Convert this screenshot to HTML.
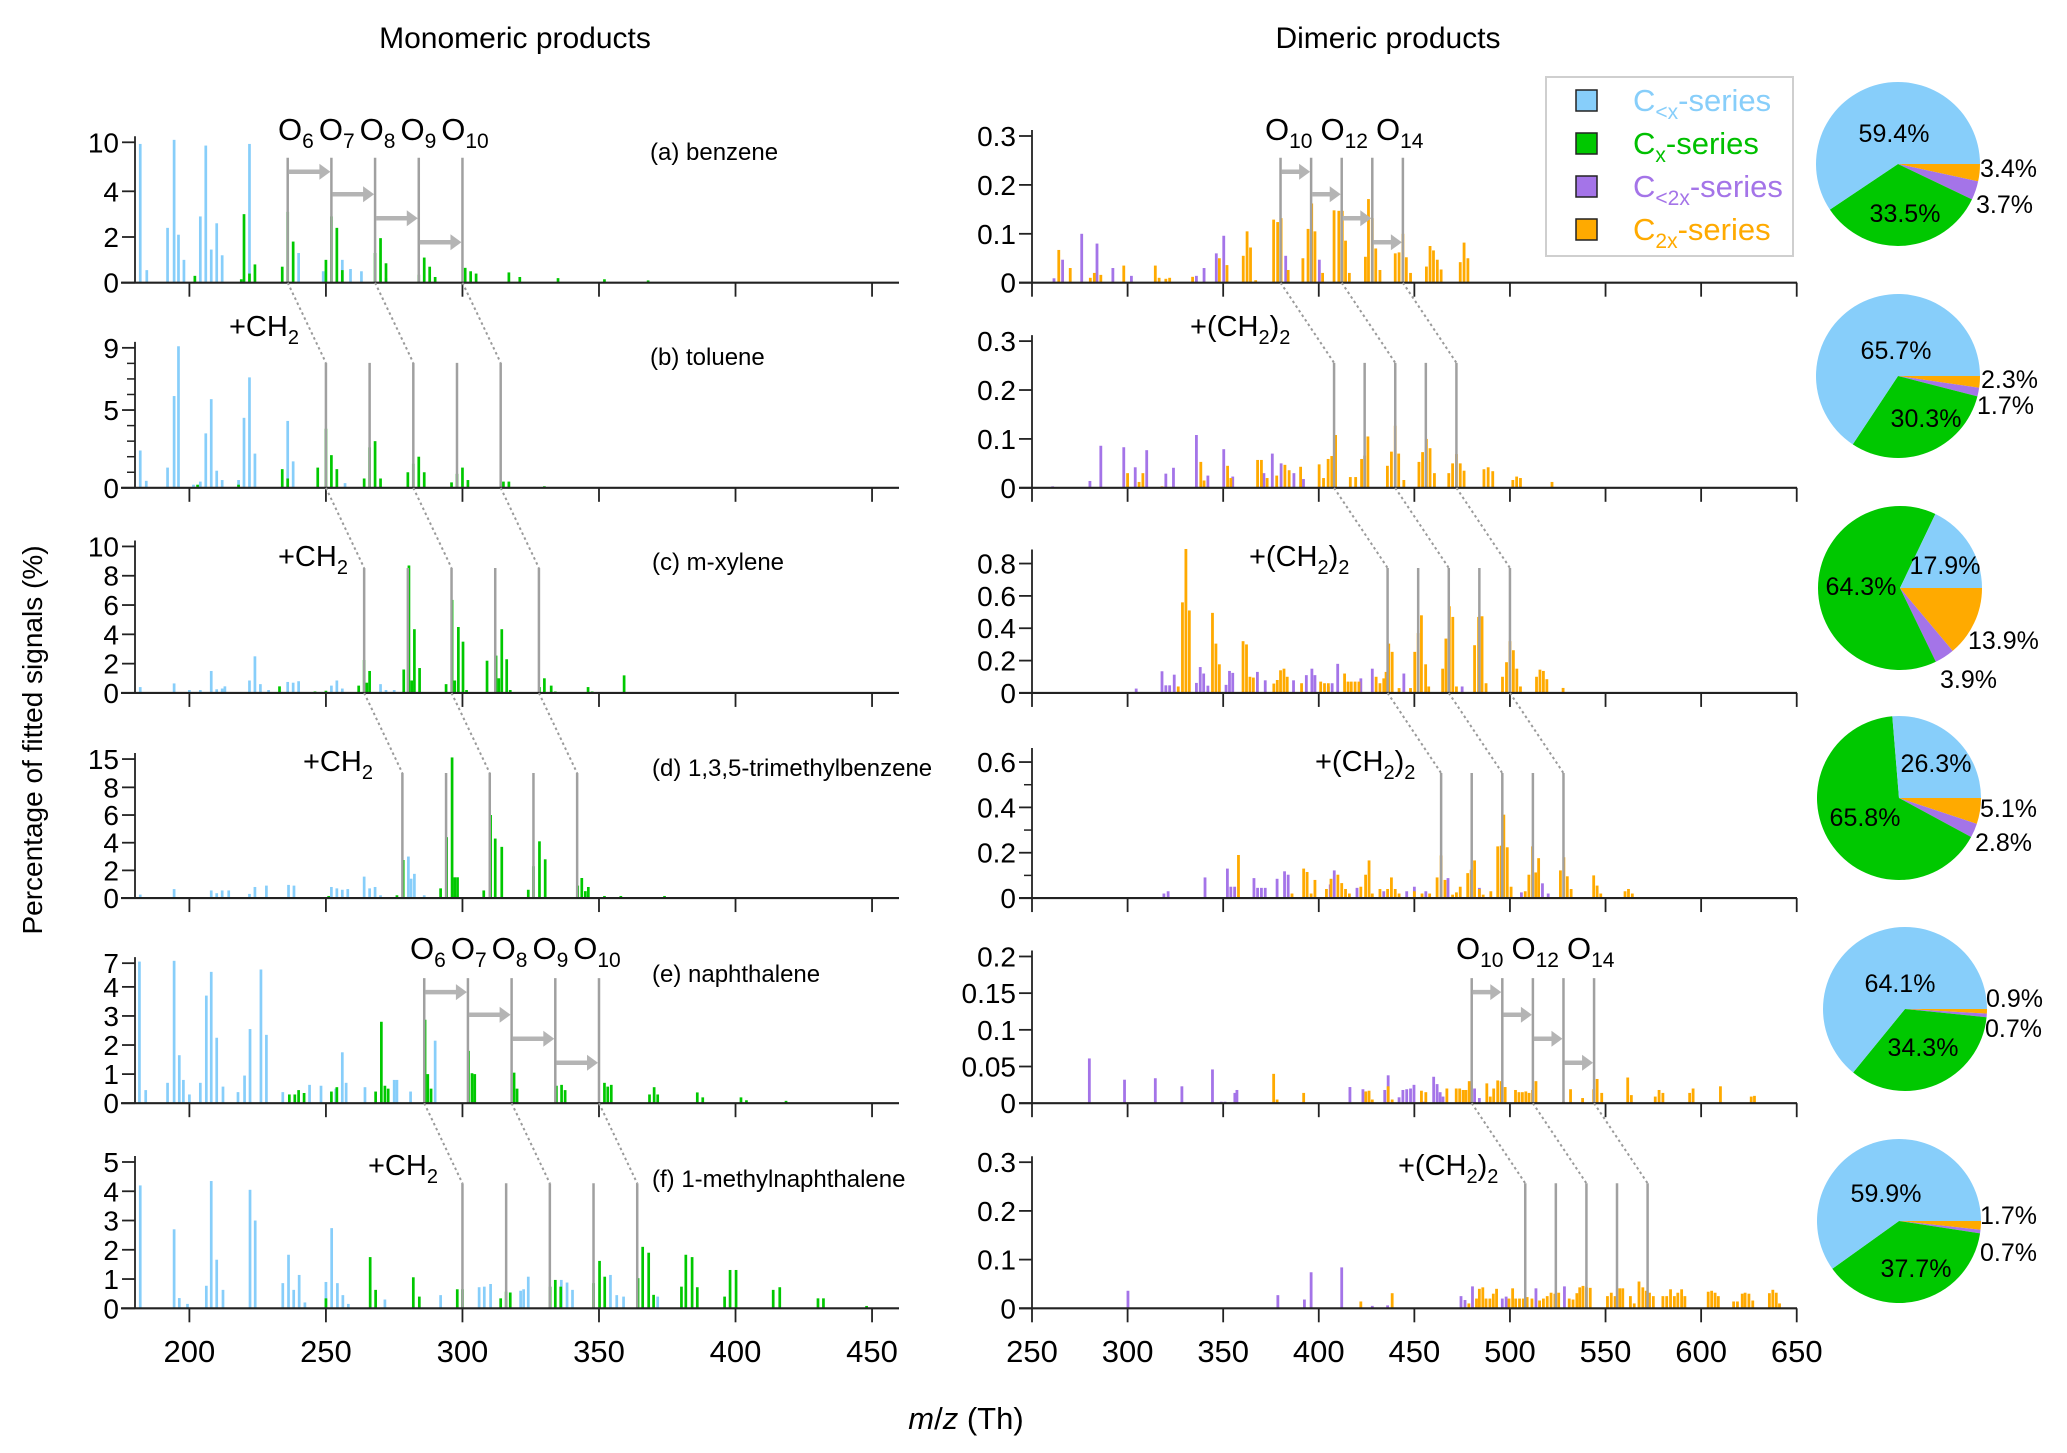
<!DOCTYPE html>
<html><head><meta charset="utf-8"><title>Monomeric and dimeric products</title>
<style>
html,body{margin:0;padding:0;background:#fff;}
svg{display:block;font-family:"Liberation Sans",Arial,sans-serif;}
</style></head>
<body>
<svg id="chart" width="2067" height="1453" viewBox="0 0 2067 1453" xmlns="http://www.w3.org/2000/svg">
<rect x="0" y="0" width="2067" height="1453" fill="#fff"/>
<text x="515" y="48" font-size="30" text-anchor="middle">Monomeric products</text>
<text x="1388" y="48" font-size="30" text-anchor="middle">Dimeric products</text>
<text transform="translate(42,740) rotate(-90)" font-size="28" text-anchor="middle">Percentage of fitted signals (%)</text>
<text x="966" y="1429" font-size="31" text-anchor="middle"><tspan font-style="italic">m</tspan>/<tspan font-style="italic">z</tspan> (Th)</text>
<g id="legend">
<rect x="1546" y="77" width="247" height="179" fill="#fff" stroke="#cfcfcf" stroke-width="2"/>
<rect x="1576" y="90" width="21" height="21" fill="#87cefa" stroke="#222" stroke-width="1.5"/>
<text x="1633" y="111" font-size="31" fill="#87cefa">C<tspan font-size="21" dy="8">&lt;x</tspan><tspan dy="-8">-series</tspan></text>
<rect x="1576" y="133" width="21" height="21" fill="#00c800" stroke="#222" stroke-width="1.5"/>
<text x="1633" y="154" font-size="31" fill="#00c000">C<tspan font-size="21" dy="8">x</tspan><tspan dy="-8">-series</tspan></text>
<rect x="1576" y="176" width="21" height="21" fill="#a474e8" stroke="#222" stroke-width="1.5"/>
<text x="1633" y="197" font-size="31" fill="#a474e8">C<tspan font-size="21" dy="8">&lt;2x</tspan><tspan dy="-8">-series</tspan></text>
<rect x="1576" y="219" width="21" height="21" fill="#ffaa00" stroke="#222" stroke-width="1.5"/>
<text x="1633" y="240" font-size="31" fill="#ffaa00">C<tspan font-size="21" dy="8">2x</tspan><tspan dy="-8">-series</tspan></text>
</g>
</svg>
<script>
// ---------- DATA ----------
const monoA_blueMz=[182,184.4,192,194.4,196,198,204,206,208,210,212,222,240,249,256,259,263,272];
const monoA_blueVal=[9.8,0.55,2.4,10.3,2.1,1.0,2.9,9.6,1.45,2.6,1.2,9.8,1.3,0.5,1.0,0.6,0.5,0.2];
const monoA_greenMz=[202,219,220,222,224,234,236,238,250,252,254,256,268,270,272,284,286,288,290,301,303,305,317,321,335,352,368];
const monoA_greenVal=[0.3,0.15,3.0,0.4,0.8,0.7,3.1,1.8,1.0,2.9,2.4,0.55,1.3,1.95,0.85,0.35,1.1,0.7,0.25,0.65,0.5,0.4,0.45,0.25,0.2,0.15,0.1];

const monoB_blueMz=[182,184.2,192,194.4,196,201.5,204,206,208,210,212,218,220,222,224,236,238,257];
const monoB_blueVal=[2.4,0.45,1.3,5.9,9.1,0.2,0.4,3.5,5.7,1.1,0.5,0.5,4.5,7.1,2.2,4.3,1.7,0.3];
const monoB_greenMz=[203,218,234,236,247,250,252,254,264,266,268,270,280,282,284,286,296,298,300,302,315,317,330];
const monoB_greenVal=[0.2,0.2,1.2,0.6,1.3,3.8,2.1,1.2,0.6,2.6,3.0,0.6,1.0,1.55,2.0,1.0,0.35,0.9,1.3,0.5,0.4,0.4,0.1];

const monoC_blueMz=[182,194.4,200,204,208,210,212,213,222,224,226,229,236,238,240,252,254,256,270,272,275];
const monoC_blueVal=[0.4,0.65,0.2,0.2,1.5,0.25,0.3,0.45,0.85,2.5,0.6,0.2,0.75,0.7,0.8,0.5,0.85,0.3,0.6,0.2,0.2];
const monoC_greenMz=[233,246,250,262,264,265,266,278.5,280.4,281.4,282.4,284.3,294,296.2,297.2,298.5,300.2,301.5,309,312.3,313.3,314.4,316.2,317.5,328.2,330,332.5,334,346,347.5,359.2,366];
const monoC_greenVal=[0.45,0.1,0.15,0.5,2.25,0.7,1.5,1.6,8.7,0.85,4.35,1.7,0.6,6.35,0.85,4.5,3.5,0.2,2.2,2.55,1.0,4.35,2.3,0.2,0.4,1.0,0.5,0.1,0.4,0.1,1.2,0.05];

const monoD_blueMz=[182,194.4,208,210,212,214.4,222,224,228.2,236.3,238.3,252,254,256,258,264,266,268,270,280.2,281.2,282.4,286];
const monoD_blueVal=[0.25,0.65,0.55,0.35,0.55,0.55,0.3,0.8,0.9,0.95,0.9,0.8,0.7,0.6,0.65,1.55,0.7,0.8,0.2,3.0,1.4,1.75,0.2];
const monoD_greenMz=[251,276,278.3,292,294.2,296.2,297.2,298.2,307.8,310.3,312.0,314.4,324.1,326,328.2,330.3,342.2,343.7,345,346.1,352,358,374];
const monoD_greenVal=[0.15,0.2,2.75,0.7,4.4,15.4,1.5,1.5,0.55,6.0,4.3,3.7,0.6,2.3,4.1,2.8,0.9,1.45,0.5,0.8,0.15,0.15,0.15];

const monoE_blueMz=[181.7,184,192,194.4,196.3,197.8,200,204,206.2,208,210,212.3,217.8,220.2,222.2,226.2,228.2,234.2,244,248.2,253.6,256,257.4,264.3,275,276,281,290];
const monoE_blueVal=[7.2,0.45,0.7,7.3,1.65,0.8,0.3,0.7,3.7,5.9,2.25,0.57,0.38,0.95,2.55,6.2,2.35,0.38,0.63,0.6,0.5,1.75,0.7,0.55,0.8,0.8,0.4,2.15];
const monoE_greenMz=[236.6,238.6,240,242,252,254,268.2,270.3,271.6,272.8,286.3,287.3,288.5,302.2,303.5,304.5,318.9,320,334.4,336.3,337.6,352,353.2,354.5,368.5,370.2,371.5,386,388,402,404,418.5];
const monoE_greenVal=[0.3,0.3,0.45,0.35,0.4,0.55,0.4,2.8,0.6,0.5,2.87,1.0,0.5,1.8,1.03,1.0,1.05,0.5,0.6,0.63,0.45,0.7,0.57,0.63,0.3,0.55,0.3,0.37,0.2,0.2,0.1,0.08];

const monoF_blueMz=[182,194.4,196.3,199.3,206.2,208,210,212.3,222.2,224.1,234.2,236.3,238.2,240.2,242.3,250,252.1,254.2,256.2,258.2,271.6,292,306.1,308,310.3,321.3,322.4,324.1,336.2,338.3,340.3,354.2,356.5,359,371.5];
const monoF_blueVal=[4.2,2.7,0.35,0.15,0.77,4.35,1.66,0.63,4.05,3.0,0.86,1.83,0.63,1.14,0.2,0.9,2.74,0.86,0.45,0.15,0.3,0.45,0.72,0.74,0.83,0.6,0.65,1.08,0.97,0.88,0.63,1.14,0.45,0.4,0.4];
const monoF_greenMz=[250,266.2,268.2,282,284.2,298.1,300,314,316,317.5,332.1,334,336,348,350.2,352.1,364.3,366,368.2,370,380.2,381.8,384.1,386,396,398,400.2,413.8,416.2,430.2,432.2,448];
const monoF_greenVal=[0.34,1.75,0.63,1.06,0.4,0.65,0.65,0.34,0.57,0.54,0.74,0.97,0.74,0.86,1.62,1.08,1.03,2.1,1.9,0.46,0.74,1.83,1.75,0.72,0.4,1.31,1.31,0.63,0.72,0.34,0.34,0.08];

const dimA_purpleMz=[261.5,266,276,284,292.3,302,336,340,346.4,350.3,382.7,400.3];
const dimA_purpleVal=[0.009,0.047,0.1,0.08,0.03,0.014,0.014,0.03,0.06,0.096,0.055,0.047];
const dimA_orangeMz=[264,270,280.5,282.6,286,298,314.5,316.5,320,322,334,348,352,360.5,362.5,364.3,367,376.4,378.5,380.3,384,391.7,394.4,396.3,398,402,408,410.5,412.3,414,416,424.4,426,428,429.8,432,440,442,444,445.8,448,456.3,458.2,460,462,464,474,476,478];
const dimA_orangeVal=[0.067,0.03,0.01,0.02,0.016,0.035,0.035,0.01,0.008,0.01,0.012,0.05,0.036,0.055,0.105,0.072,0.005,0.129,0.124,0.132,0.026,0.05,0.11,0.162,0.105,0.02,0.148,0.147,0.147,0.086,0.02,0.053,0.171,0.132,0.07,0.026,0.06,0.062,0.1,0.052,0.02,0.033,0.075,0.066,0.047,0.027,0.042,0.082,0.05];

const dimB_purpleMz=[260.8,280.3,286,298,304,310,320,324,336,342,350.3,355,371.3,375.7,380.3,387,392];
const dimB_purpleVal=[0.003,0.014,0.086,0.083,0.042,0.077,0.029,0.041,0.108,0.025,0.079,0.023,0.03,0.07,0.05,0.03,0.018];
const dimB_orangeMz=[300,306,308,318,338.3,340,352.3,354,368,370,373,378,382.3,384.5,390.5,400.2,402.5,404.9,406.8,408.8,416.5,419.3,422.4,424,425.7,435.9,438,440,441.8,444.5,452.4,454.3,456.3,458.2,460.5,468,470,472,474,476,486.4,488.6,491,501.5,503.5,505.5,522];
const dimB_orangeVal=[0.03,0.012,0.03,0.003,0.053,0.015,0.045,0.02,0.057,0.057,0.02,0.025,0.047,0.036,0.043,0.048,0.02,0.059,0.065,0.108,0.022,0.022,0.059,0.066,0.105,0.045,0.074,0.127,0.07,0.016,0.053,0.073,0.1,0.081,0.03,0.03,0.05,0.069,0.05,0.035,0.038,0.042,0.034,0.016,0.023,0.02,0.012];

const dimC_purpleMz=[304.5,318,320,322,324.4,336,338,339.8,342,351.5,353.3,355,367.9,372,386.8,393.5,396.4,398,405,407,409.9,422,428,444.5,475];
const dimC_purpleVal=[0.027,0.134,0.047,0.047,0.113,0.062,0.16,0.12,0.045,0.05,0.136,0.124,0.13,0.078,0.078,0.11,0.15,0.11,0.04,0.06,0.18,0.09,0.15,0.12,0.04];
const dimC_orangeMz=[326.5,328.7,330.5,332.3,344.4,346.2,348,360.4,362.2,364,365.8,376.5,378.3,380,381.8,383.5,391,401,403,405,413.5,415.3,417,419,421,430,432,434,435.2,436.6,438.4,442,448,450.2,452,453.7,455.9,457.5,464.8,466.5,468.3,470.1,472,481.5,483.6,485.4,487.5,496.1,498.2,500,501.8,503.6,505.5,513.9,515.7,517.5,519.3,527.8];
const dimC_orangeVal=[0.04,0.56,0.89,0.51,0.495,0.305,0.177,0.32,0.3,0.1,0.095,0.058,0.08,0.14,0.15,0.1,0.06,0.07,0.06,0.06,0.12,0.07,0.07,0.07,0.07,0.1,0.06,0.09,0.13,0.305,0.254,0.03,0.03,0.254,0.37,0.48,0.177,0.04,0.15,0.336,0.536,0.47,0.04,0.295,0.47,0.474,0.06,0.1,0.19,0.32,0.264,0.15,0.04,0.1,0.144,0.136,0.085,0.031];

const dimD_purpleMz=[319,321.2,340.5,352.2,354,356,366.1,368,370,372,378.2,382.1,384,406,408.1,420,434,446,450,456,467.6,484,506,517,520];
const dimD_purpleVal=[0.02,0.03,0.091,0.13,0.05,0.05,0.088,0.045,0.045,0.045,0.085,0.118,0.103,0.06,0.122,0.045,0.03,0.03,0.05,0.03,0.088,0.045,0.025,0.065,0.02];
const dimD_orangeMz=[358,386,392.1,393.9,396,398,404,406.4,410,412,414,416,422,424.5,426.3,428,432,436,438,440,442,450,454,458,461.9,464,466,470,472,474,477.9,479.7,481.5,484,486,490,493.6,495.4,496.8,498.6,500.6,508,509.9,511.8,513.5,515,526.4,528.2,530,532,543.8,545.6,547.5,560.2,562,564];
const dimD_orangeVal=[0.19,0.02,0.13,0.115,0.02,0.08,0.04,0.085,0.103,0.066,0.04,0.02,0.05,0.103,0.166,0.02,0.04,0.04,0.091,0.04,0.02,0.03,0.02,0.02,0.091,0.188,0.08,0.015,0.025,0.05,0.11,0.125,0.166,0.04,0.015,0.03,0.228,0.231,0.368,0.224,0.05,0.03,0.103,0.228,0.113,0.176,0.122,0.18,0.096,0.04,0.1,0.055,0.02,0.03,0.04,0.02];

const dimE_purpleMz=[280,298.4,314.5,328.4,344.4,349,351,356.1,357.2,416.3,423.1,434.5,436.3,442,444,446,448,449.8,455,460.1,461.9,463.5,465,481.5,484];
const dimE_purpleVal=[0.061,0.032,0.034,0.023,0.046,0.002,0.002,0.014,0.018,0.022,0.019,0.018,0.038,0.008,0.018,0.019,0.02,0.025,0.002,0.036,0.026,0.015,0.009,0.02,0.007];
const dimE_orangeMz=[376.4,378.2,392.1,424.6,426.3,428,436.3,438.4,453.7,456,467,471.9,473.7,475.5,477,478.7,487.9,489.7,491.5,493.6,495.4,497.5,502.9,504.7,506.5,508.3,510,511.8,513.6,528,531.7,538,543.8,545.6,548,561.6,563.5,576,578,580,594,595.8,610.1,626.2,627.9];
const dimE_orangeVal=[0.04,0.005,0.014,0.016,0.017,0.005,0.023,0.005,0.017,0.015,0.02,0.02,0.02,0.018,0.018,0.03,0.027,0.009,0.02,0.031,0.03,0.022,0.018,0.015,0.015,0.016,0.014,0.018,0.03,0.002,0.019,0.007,0.019,0.033,0.014,0.035,0.011,0.009,0.018,0.014,0.014,0.02,0.023,0.009,0.01];

const dimF_purpleMz=[300.2,378.6,392.5,396,412,428,436,474.4,476.5,480.4,496,498,513.6,528.5];
const dimF_purpleVal=[0.036,0.027,0.018,0.074,0.084,0.005,0.006,0.025,0.017,0.045,0.02,0.024,0.041,0.045];
const dimF_orangeMz=[422,438.4,478.5,482.5,484,485.8,487.5,489.5,491.3,493,499.5,501.4,503,505,507,509,511.5,515.5,517.5,519.5,521.5,523.5,525.5,531,533,535,536.5,538.2,540,542,551,553,555,557.4,559,563,565,567.5,569.5,571.3,573,575,580,582,584,586,587.8,589.8,591.5,603.7,605.5,607.3,609,617,619,621.5,623,625,627,635.7,637.5,639.3,641];
const dimF_orangeVal=[0.014,0.031,0.01,0.02,0.04,0.043,0.02,0.02,0.03,0.04,0.02,0.041,0.02,0.02,0.02,0.023,0.02,0.016,0.02,0.025,0.032,0.03,0.032,0.02,0.018,0.031,0.043,0.046,0.043,0.042,0.025,0.032,0.025,0.041,0.041,0.025,0.01,0.055,0.043,0.036,0.032,0.025,0.025,0.025,0.039,0.025,0.032,0.039,0.025,0.034,0.036,0.032,0.025,0.014,0.014,0.03,0.032,0.03,0.016,0.031,0.038,0.032,0.01];

const pieA=[59.4,33.5,3.7,3.4];
const pieB=[65.7,30.3,1.7,2.3];
const pieC=[17.9,64.3,3.9,13.9];
const pieD=[26.3,65.8,2.8,5.1];
const pieE=[64.1,34.3,0.7,0.9];
const pieF=[59.9,37.7,0.7,1.7];

const monoXTicks=[200,250,300,350,400,450];
const dimXTicks=[250,300,350,400,450,500,550,600,650];
const monoYTicksA=[0,2,4,10], monoYTicksB=[0,5,9], monoYTicksC=[0,2,4,6,8,10];
const monoYTicksD=[0,2,4,6,8,15], monoYTicksE=[0,1,2,3,4,7], monoYTicksF=[0,1,2,3,4,5];
const dimYTicksA=[0,0.1,0.2,0.3], dimYTicksB=[0,0.1,0.2,0.3], dimYTicksC=[0,0.2,0.4,0.6,0.8];
const dimYTicksD=[0,0.2,0.4,0.6], dimYTicksE=[0,0.05,0.1,0.15,0.2], dimYTicksF=[0,0.1,0.2,0.3];
const monoMarkA=[236,252,268,284,300], monoMarkB=[250,266,282,298,314], monoMarkC=[264,280,296,312,328];
const monoMarkD=[278,294,310,326,342], monoMarkE=[286,302,318,334,350], monoMarkF=[300,316,332,348,364];
const dimMarkA=[380,396,412,428,444], dimMarkB=[408,424,440,456,472], dimMarkC=[436,452,468,484,500];
const dimMarkD=[464,480,496,512,528], dimMarkE=[480,496,512,528,544], dimMarkF=[508,524,540,556,572];

// ---------- RENDER ----------
const NS="http://www.w3.org/2000/svg";
const svg=document.getElementById('chart');
const COL={b:'#87cefa',g:'#00c800',p:'#a474e8',o:'#ffaa00'};
function mk(tag,attrs,parent){const e=document.createElementNS(NS,tag);for(const k in attrs)e.setAttribute(k,attrs[k]);(parent||svg).appendChild(e);return e;}
const xMono=m=>189.4+(m-200)*2.7306;
const xDim=m=>1032+(m-250)*1.9118;
const BASE0=282.7, STEP=205.12;
function pwScale(base,vs,ps){return v=>{let i=0;while(i<vs.length-2&&v>vs[i+1])i++;const t=(v-vs[i])/(vs[i+1]-vs[i]);return base-(ps[i]+t*(ps[i+1]-ps[i]));};}
const fmt=v=>String(v);

const monoPanels=[
 {id:'a',name:'(a) benzene',bm:monoA_blueMz,bv:monoA_blueVal,gm:monoA_greenMz,gv:monoA_greenVal,yt:monoYTicksA,vs:[0,4,10],ps:[0,91.4,140.4],mk:monoMarkA},
 {id:'b',name:'(b) toluene',bm:monoB_blueMz,bv:monoB_blueVal,gm:monoB_greenMz,gv:monoB_greenVal,yt:monoYTicksB,vs:[0,9],ps:[0,140],mk:monoMarkB,minor:[1,2,3,4,6,7,8]},
 {id:'c',name:'(c) m-xylene',bm:monoC_blueMz,bv:monoC_blueVal,gm:monoC_greenMz,gv:monoC_greenVal,yt:monoYTicksC,vs:[0,10],ps:[0,146.5],mk:monoMarkC},
 {id:'d',name:'(d) 1,3,5-trimethylbenzene',bm:monoD_blueMz,bv:monoD_blueVal,gm:monoD_greenMz,gv:monoD_greenVal,yt:monoYTicksD,vs:[0,8,15],ps:[0,110.7,139],mk:monoMarkD},
 {id:'e',name:'(e) naphthalene',bm:monoE_blueMz,bv:monoE_blueVal,gm:monoE_greenMz,gv:monoE_greenVal,yt:monoYTicksE,vs:[0,4,7],ps:[0,116.3,140],mk:monoMarkE},
 {id:'f',name:'(f) 1-methylnaphthalene',bm:monoF_blueMz,bv:monoF_blueVal,gm:monoF_greenMz,gv:monoF_greenVal,yt:monoYTicksF,vs:[0,5],ps:[0,146.3],mk:monoMarkF}
];
const dimPanels=[
 {id:'a',pm:dimA_purpleMz,pv:dimA_purpleVal,om:dimA_orangeMz,ov:dimA_orangeVal,yt:dimYTicksA,vs:[0,0.3],ps:[0,146.7],mk:dimMarkA,pie:pieA},
 {id:'b',pm:dimB_purpleMz,pv:dimB_purpleVal,om:dimB_orangeMz,ov:dimB_orangeVal,yt:dimYTicksB,vs:[0,0.3],ps:[0,146.7],mk:dimMarkB,pie:pieB},
 {id:'c',pm:dimC_purpleMz,pv:dimC_purpleVal,om:dimC_orangeMz,ov:dimC_orangeVal,yt:dimYTicksC,vs:[0,0.8],ps:[0,129.4],mk:dimMarkC,pie:pieC},
 {id:'d',pm:dimD_purpleMz,pv:dimD_purpleVal,om:dimD_orangeMz,ov:dimD_orangeVal,yt:dimYTicksD,vs:[0,0.6],ps:[0,136],mk:dimMarkD,pie:pieD,minor:[0.1,0.3,0.5]},
 {id:'e',pm:dimE_purpleMz,pv:dimE_purpleVal,om:dimE_orangeMz,ov:dimE_orangeVal,yt:dimYTicksE,vs:[0,0.2],ps:[0,146.7],mk:dimMarkE,pie:pieE},
 {id:'f',pm:dimF_purpleMz,pv:dimF_purpleVal,om:dimF_orangeMz,ov:dimF_orangeVal,yt:dimYTicksF,vs:[0,0.3],ps:[0,146.1],mk:dimMarkF,pie:pieF}
];

function drawBars(g,mzs,vals,xf,yf,base,col,w,nm){
 mzs.forEach((m,i)=>{const y=yf(vals[i]);const r=mk('rect',{x:(xf(m)-w/2).toFixed(2),y:y.toFixed(2),width:w,height:Math.max(0,base-y).toFixed(2),fill:col},g);
 
 });
}
function drawAxes(g,base,xAxis0,xAxis1,yAxisX,xf,xticks,yf,yt,top,minor,showXLabels,id){
 const ax=mk('line',{x1:xAxis0,y1:base,x2:xAxis1,y2:base,stroke:'#222','stroke-width':2.2},g);
 
 
 const ay=mk('line',{x1:yAxisX,y1:base,x2:yAxisX,y2:top,stroke:'#222','stroke-width':1.8},g);
 
 
 xticks.forEach(t=>{const x=xf(t);const l=mk('line',{x1:x,y1:base,x2:x,y2:base+14,stroke:'#222','stroke-width':1.8},g);
  
  
  if(showXLabels){const tx=mk('text',{x:x,y:1362,'font-size':31,'text-anchor':'middle'},g);tx.textContent=fmt(t);
   
   }});
 yt.forEach(t=>{const y=yf(t);const l=mk('line',{x1:yAxisX-13,y1:y,x2:yAxisX,y2:y,stroke:'#222','stroke-width':1.8},g);
  
  
  const tx=mk('text',{x:yAxisX-16,y:y+10,'font-size':28,'text-anchor':'end'},g);tx.textContent=fmt(t);
  
  });
 (minor||[]).forEach(t=>{const y=yf(t);const l=mk('line',{x1:yAxisX-8,y1:y,x2:yAxisX,y2:y,stroke:'#222','stroke-width':1.5},g);
  
  });
}
function drawMarks(g,marks,xf,base,arrows){
 marks.forEach(m=>{const x=xf(m);const l=mk('line',{x1:x,y1:base,x2:x,y2:base-125,stroke:'#a0a0a0','stroke-width':2.5},g);
  
  });
 if(arrows){const hs=[111,88.4,64.4,40.4];
  for(let k=0;k<4;k++){const x1=xf(marks[k])+1,x2=xf(marks[k+1])-1,y=base-hs[k];
   const a=mk('line',{x1:x1,y1:y,x2:x2-9,y2:y,stroke:'#b4b4b4','stroke-width':4.5},g);
   
   
   const h=mk('polygon',{points:`${x2},${y} ${x2-11},${y-8} ${x2-11},${y+8}`,fill:'#b4b4b4'},g);
   
   }}
}
function drawDotted(g,fromMarks,toMarks,xf,baseFrom,baseTo){
 [0,2,4].forEach(k=>{const l=mk('line',{x1:xf(fromMarks[k]),y1:baseFrom,x2:xf(toMarks[k]),y2:baseTo-125,stroke:'#9a9a9a','stroke-width':2,'stroke-dasharray':'2.5,3'},g);
  
  });
}
function drawPie(vals,cx,cy,r,id){
 const g=mk('g',{});
 
 
 const order=[3,2,1,0], cols=[COL.b,COL.g,COL.p,COL.o], names=['cx-lt','cx','c2x-lt','c2x'];
 const tot=vals.reduce((a,b)=>a+b,0);let a0=0;
 order.forEach(i=>{const sw=vals[i]/tot*2*Math.PI;const a1=a0+sw;
  const p=`M${cx},${cy} L${cx+r*Math.cos(a0)},${cy+r*Math.sin(a0)} A${r},${r} 0 ${sw>Math.PI?1:0} 1 ${cx+r*Math.cos(a1)},${cy+r*Math.sin(a1)} Z`;
  const s=mk('path',{d:p,fill:cols[i]},g);
  
  
  a0=a1;});
 return g;
}

const monoLabelPos=[[650,160],[650,365],[652,570],[652,776],[652,982],[652,1187]];
monoPanels.forEach((P,i)=>{
 const base=BASE0+i*STEP;const g=mk('g',{});
 
 
 const yf=pwScale(base,P.vs,P.ps);
 drawBars(g,P.bm,P.bv,xMono,yf,base,COL.b,2.7,'bar-cx-lt');
 drawBars(g,P.gm,P.gv,xMono,yf,base,COL.g,2.7,'bar-cx');
 drawMarks(g,P.mk,xMono,base,P.id==='a'||P.id==='e');
 const top=yf(P.yt[P.yt.length-1])-6;
 drawAxes(g,base,121,899,135,xMono,monoXTicks,yf,P.yt,top,P.minor,i===5,'mono-'+P.id);
 const t=mk('text',{x:monoLabelPos[i][0],y:monoLabelPos[i][1],'font-size':24},g);t.textContent=P.name;
 
 
});
const pieCenters=[[1898,164],[1898,376],[1900,588],[1899,798],[1905,1009],[1899,1221]];
dimPanels.forEach((P,i)=>{
 const base=BASE0+i*STEP;const g=mk('g',{});
 
 
 const yf=pwScale(base,P.vs,P.ps);
 drawBars(g,P.pm,P.pv,xDim,yf,base,COL.p,2.8,'bar-c2x-lt');
 drawBars(g,P.om,P.ov,xDim,yf,base,COL.o,2.8,'bar-c2x');
 drawMarks(g,P.mk,xDim,base,P.id==='a'||P.id==='e');
 const top=yf(P.yt[P.yt.length-1])-(P.id==='c'||P.id==='d'?14:6);
 drawAxes(g,base,1019,1797,1032,xDim,dimXTicks,yf,P.yt,top,P.minor,i===5,'dim-'+P.id);
 drawPie(P.pie,pieCenters[i][0],pieCenters[i][1],82,P.id);
});
const cg=mk('g',{});


[[0,1],[1,2],[2,3],[4,5]].forEach(([a,b])=>{
 drawDotted(cg,monoPanels[a].mk,monoPanels[b].mk,xMono,BASE0+a*STEP,BASE0+b*STEP);
 drawDotted(cg,dimPanels[a].mk,dimPanels[b].mk,xDim,BASE0+a*STEP,BASE0+b*STEP);
});
const pieLabels=[
 ['59.4%',1894,142,'middle'],['33.5%',1905,222,'middle'],['3.4%',1980,177,'start'],['3.7%',1976,213,'start'],
 ['65.7%',1896,359,'middle'],['30.3%',1926,427,'middle'],['2.3%',1981,388,'start'],['1.7%',1977,414,'start'],
 ['17.9%',1945,574,'middle'],['64.3%',1861,595,'middle'],['13.9%',1968,649,'start'],['3.9%',1940,688,'start'],
 ['26.3%',1936,772,'middle'],['65.8%',1865,826,'middle'],['5.1%',1980,817,'start'],['2.8%',1975,851,'start'],
 ['64.1%',1900,992,'middle'],['34.3%',1923,1056,'middle'],['0.9%',1986,1007,'start'],['0.7%',1985,1037,'start'],
 ['59.9%',1886,1202,'middle'],['37.7%',1916,1277,'middle'],['1.7%',1980,1224,'start'],['0.7%',1980,1261,'start']];
pieLabels.forEach(L=>{const t=mk('text',{x:L[1],y:L[2],'font-size':25,'text-anchor':L[3]});t.textContent=L[0];
 
 });
function oLabel(x,y,parts,gap){
 const t=mk('text',{x:x,y:y,'font-size':31});
 
 
 parts.forEach((p,i)=>{const a=mk('tspan',i?{dx:gap,dy:-8}:{},t);a.textContent='O';const b=mk('tspan',{'font-size':21,dy:8},t);b.textContent=p;});
}
oLabel(278,140,['6','7','8','9','10'],5);
oLabel(410,959,['6','7','8','9','10'],5);
oLabel(1265,140,['10','12','14'],8);
oLabel(1456,959,['10','12','14'],8);
function ch2(x,y,dimer){
 const t=mk('text',{x:x,y:y,'font-size':29});
 
 
 const a=mk('tspan',{},t);a.textContent=dimer?'+(CH':'+CH';
 const b=mk('tspan',{'font-size':20,dy:8},t);b.textContent='2';
 if(dimer){const c=mk('tspan',{dy:-8},t);c.textContent=')';const d=mk('tspan',{'font-size':20,dy:8},t);d.textContent='2';}
}
ch2(229,336,false);ch2(278,566,false);ch2(303,771,false);ch2(368,1175,false);
ch2(1190,336,true);ch2(1249,566,true);ch2(1315,771,true);ch2(1398,1175,true);
</script>
</body></html>
